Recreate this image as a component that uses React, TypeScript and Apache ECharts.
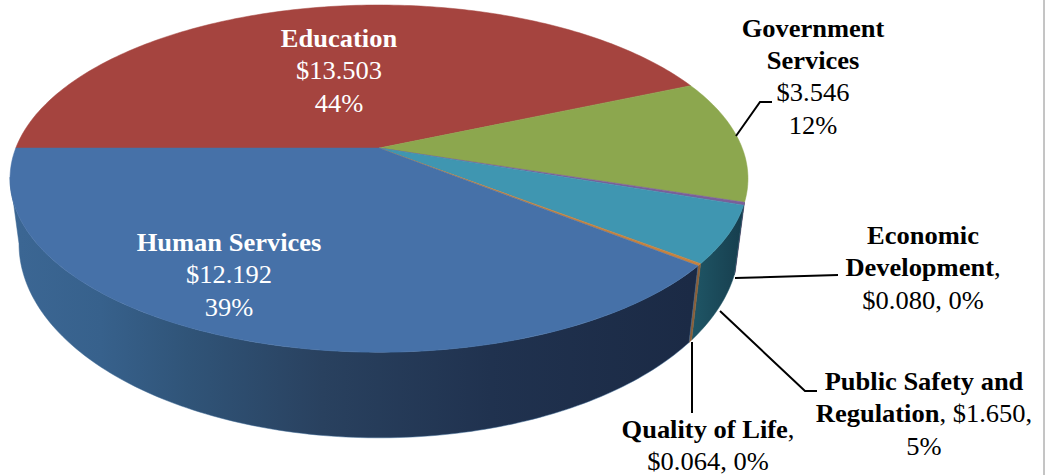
import React, { useEffect, useRef } from "react";
import * as echarts from "echarts";

const categories = ["Education", "Government Services", "Economic Development", "Public Safety and Regulation", "Quality of Life", "Human Services"];
const values = [13.503, 3.546, 0.08, 1.65, 0.064, 12.192];
const topColors = ["#A5443F", "#8CA74E", "#7A5F9A", "#3F96B1", "#C6823F", "#4671A8"];
const wallStops: [number, string][][] = [
  [],
  [],
  [[0, "#3B2F55"], [1, "#3B2F55"]],
  [[0, "#1F5666"], [1, "#173F4F"]],
  [[0, "#8A5F38"], [1, "#8A5F38"]],
  [[0, "#3B6693"], [0.12, "#37618C"], [0.25, "#305478"], [0.45, "#29415F"], [0.7, "#20324F"], [1, "#1B2A45"]],
];
const labelLines = [
  ["{b|Education}", "{r|$13.503}", "{r|44%}"],
  ["{b|Government}", "{b|Services}", "{r|$3.546}", "{r|12%}"],
  ["{b|Economic}", "{b|Development}{r|,}", "{r|$0.080, 0%}"],
  ["{b|Public Safety and}", "{b|Regulation}{r|, $1.650,}", "{r|5%}"],
  ["{b|Quality of Life}{r|,}", "{r|$0.064, 0%}"],
  ["{b|Human Services}", "{r|$12.192}", "{r|39%}"],
];
const labelCenters = [[339, 71], [813, 77], [923, 268], [924, 414], [708, 446], [229, 275]];
const labelFill = ["#fff", "#000", "#000", "#000", "#000", "#fff"];
const leaders: (number[][] | null)[] = [
  null,
  [[736, 136], [760, 102], [772, 102]],
  [[735, 278], [838, 275]],
  [[720, 311], [805, 391], [817, 391]],
  [[692, 342], [692, 413]],
  null,
];

type Plane = { y0: number; R: number; H: number; k: number };
const RAD = Math.PI / 180;
const CX = 379;
const TOP: Plane = { y0: 148, R: 363.2, H: 168.2, k: 0.1762 };
const BOTTOM: Plane = { y0: 211, R: 354.8, H: 188.5, k: 0.169 };
const WALL_FROM = -17.7;
const WALL_TO = -170.3;

const total = values.reduce((a, b) => a + b, 0);
const starts: number[] = [];
values.reduce((acc, v, i) => {
  starts[i] = acc;
  return acc + v;
}, 0);
const angleOf = (v: number) => 180 - (v / total) * 360;

function pt(deg: number, p: Plane) {
  const c = Math.cos(deg * RAD);
  const s = Math.sin(deg * RAD);
  const w = 1 / (1 + p.k * s);
  return [CX + p.R * c * w, p.y0 - p.H * s * w];
}

function arc(a: number, b: number, p: Plane) {
  const n = Math.max(2, Math.ceil(Math.abs(a - b)));
  const out: number[][] = [];
  for (let i = 0; i <= n; i++) out.push(pt(a + ((b - a) * i) / n, p));
  return out;
}

const topItem = (params: any, api: any) => {
  const i = params.dataIndex;
  const v = api.value(0);
  const a = angleOf(starts[i]);
  const b = angleOf(starts[i] + v);
  return {
    type: "polygon",
    shape: { points: [[CX, TOP.y0], ...arc(a, b, TOP)] },
    style: { fill: topColors[i], stroke: topColors[i], lineWidth: 0.5 },
  };
};

const wallItem = (params: any, api: any) => {
  const i = params.dataIndex;
  const v = api.value(0);
  const a = Math.min(angleOf(starts[i]), WALL_FROM);
  const b = Math.max(angleOf(starts[i] + v), WALL_TO);
  if (a <= b || !wallStops[i].length) return null;
  const fill = new echarts.graphic.LinearGradient(
    i === 5 ? 20 : 692,
    0,
    i === 5 ? 692 : 740,
    0,
    wallStops[i].map(([offset, color]) => ({ offset, color })),
    true
  );
  return {
    type: "polygon",
    shape: { points: [...arc(a, b, TOP), ...arc(b, a, BOTTOM)] },
    style: { fill, stroke: wallStops[i][0][1], lineWidth: 0.5 },
  };
};

const labelItem = (params: any) => {
  const i = params.dataIndex;
  const fill = labelFill[i];
  const base = { fontFamily: "Liberation Serif", fontSize: 25, lineHeight: 32.5, fill };
  const children: any[] = [];
  if (leaders[i]) {
    children.push({
      type: "polyline",
      shape: { points: leaders[i] },
      style: { stroke: "#000", lineWidth: 2, fill: "none" },
    });
  }
  children.push({
    type: "text",
    x: labelCenters[i][0],
    y: labelCenters[i][1],
    scaleX: 1.06,
    style: {
      text: labelLines[i].join("\n"),
      align: "center",
      verticalAlign: "middle",
      ...base,
      rich: {
        b: { ...base, fontWeight: "bold" },
        r: { ...base },
      },
    },
  });
  return { type: "group", children };
};

export default function App() {
  const ref = useRef<HTMLDivElement>(null);
  useEffect(() => {
    const chart = echarts.init(ref.current!, null, { renderer: "svg" });
    const data = categories.map((name, i) => ({ name, value: [values[i]] }));
    chart.setOption({
      animation: false,
      backgroundColor: "#fff",
      graphic: [
        {
          type: "line",
          shape: { x1: 1044, y1: 0, x2: 1044, y2: 475 },
          style: { stroke: "#8a8a8a", lineWidth: 1 },
        },
      ],
      series: [
        { type: "custom", coordinateSystem: "none", renderItem: wallItem, data, z: 1, silent: true },
        { type: "custom", coordinateSystem: "none", renderItem: topItem, data, z: 2, silent: true },
        { type: "custom", coordinateSystem: "none", renderItem: labelItem, data, z: 3, silent: true },
      ],
    });
    return () => chart.dispose();
  }, []);
  return <div ref={ref} style={{ position: "absolute", left: 0, top: 0, width: 1045, height: 475 }} />;
}
